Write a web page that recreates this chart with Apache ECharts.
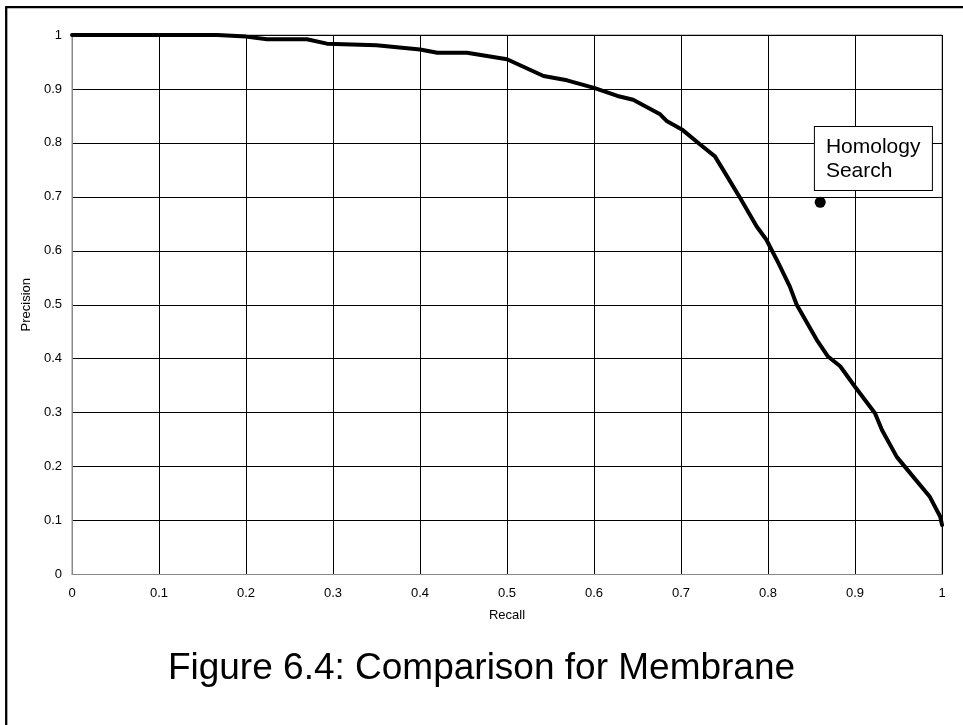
<!DOCTYPE html>
<html>
<head>
<meta charset="utf-8">
<script src="https://cdn.jsdelivr.net/npm/echarts@6/dist/echarts.min.js"></script>
<style>
html,body{margin:0;padding:0;background:#fff;}
#chart{width:963px;height:725px;}
</style>
</head>
<body>
<div id="chart"></div>
<script>
var recall = [0, 0.1, 0.167, 0.2, 0.224, 0.27, 0.293, 0.331, 0.35, 0.4, 0.42, 0.454, 0.5, 0.542, 0.569, 0.6, 0.627, 0.645, 0.676, 0.684, 0.701, 0.722, 0.739, 0.753, 0.768, 0.787, 0.798, 0.812, 0.825, 0.833, 0.856, 0.869, 0.883, 0.9, 0.923, 0.931, 0.948, 0.967, 0.986, 0.998, 1.0];
var precision = [1, 1, 1, 0.997, 0.992, 0.992, 0.984, 0.982, 0.981, 0.973, 0.967, 0.967, 0.955, 0.924, 0.916, 0.902, 0.887, 0.880, 0.853, 0.840, 0.825, 0.797, 0.775, 0.738, 0.698, 0.645, 0.621, 0.577, 0.534, 0.5, 0.435, 0.404, 0.386, 0.348, 0.299, 0.268, 0.218, 0.181, 0.144, 0.107, 0.092];
var homologyPoint = [0.86, 0.69];
var homologyLabel = 'Homology\nSearch';
var xAxisName = 'Recall';
var yAxisName = 'Precision';
var figureTitle = 'Figure 6.4: Comparison for Membrane';

var curve = recall.map(function (r, i) { return [r, precision[i]]; });
var font = '"Liberation Sans", Arial, sans-serif';

var chart = echarts.init(document.getElementById('chart'));
chart.setOption({
  animation: false,
  backgroundColor: '#fff',
  textStyle: { fontFamily: font },
  title: {
    text: figureTitle,
    left: 'center',
    top: 645,
    textStyle: { fontFamily: font, fontSize: 37, fontWeight: 'normal', color: '#000' }
  },
  graphic: [{
    type: 'rect',
    shape: { x: 6.2, y: 7.2, width: 1200, height: 1000 },
    style: { fill: 'none', stroke: '#000', lineWidth: 2.3 },
    silent: true
  }],
  grid: {
    left: 72, right: 21, top: 35, bottom: 150.5,
    show: true, borderColor: '#888', borderWidth: 1, backgroundColor: 'transparent'
  },
  xAxis: {
    type: 'value', min: 0, max: 1, interval: 0.1,
    name: xAxisName, nameLocation: 'middle', nameGap: 34,
    nameTextStyle: { fontFamily: font, fontSize: 13, color: '#000' },
    axisLine: { show: true, lineStyle: { color: '#888', width: 1 } },
    axisTick: { show: false },
    axisLabel: { margin: 12, fontFamily: font, fontSize: 13, color: '#000',
      formatter: function (v) { return +v.toFixed(1) + ''; } },
    splitLine: { show: true, lineStyle: { color: '#000', width: 1 } }
  },
  yAxis: {
    type: 'value', min: 0, max: 1, interval: 0.1,
    name: yAxisName, nameLocation: 'middle', nameGap: 32, nameRotate: 90,
    nameTextStyle: { fontFamily: font, fontSize: 13, color: '#000' },
    axisLine: { show: true, lineStyle: { color: '#888', width: 1 } },
    axisTick: { show: false },
    axisLabel: { margin: 10, fontFamily: font, fontSize: 13, color: '#000',
      formatter: function (v) { return +v.toFixed(1) + ''; } },
    splitLine: { show: true, lineStyle: { color: '#000', width: 1 } }
  },
  series: [{
    type: 'line',
    data: curve,
    showSymbol: false,
    symbol: 'none',
    lineStyle: { color: '#000', width: 4, join: 'round', cap: 'round' },
    z: 3
  }, {
    type: 'scatter',
    data: [homologyPoint],
    symbol: 'circle',
    symbolSize: 11,
    itemStyle: { color: '#000', opacity: 1 },
    z: 4,
    label: {
      show: true,
      position: 'inside',
      formatter: homologyLabel,
      align: 'left',
      verticalAlign: 'top',
      offset: [-5.3, -75.3],
      fontFamily: font,
      fontSize: 21,
      lineHeight: 24,
      color: '#000',
      opacity: 1,
      width: 95,
      padding: [8, 11, 7, 11],
      backgroundColor: '#fff',
      borderColor: '#000',
      borderWidth: 1
    }
  }]
});
</script>
</body>
</html>
